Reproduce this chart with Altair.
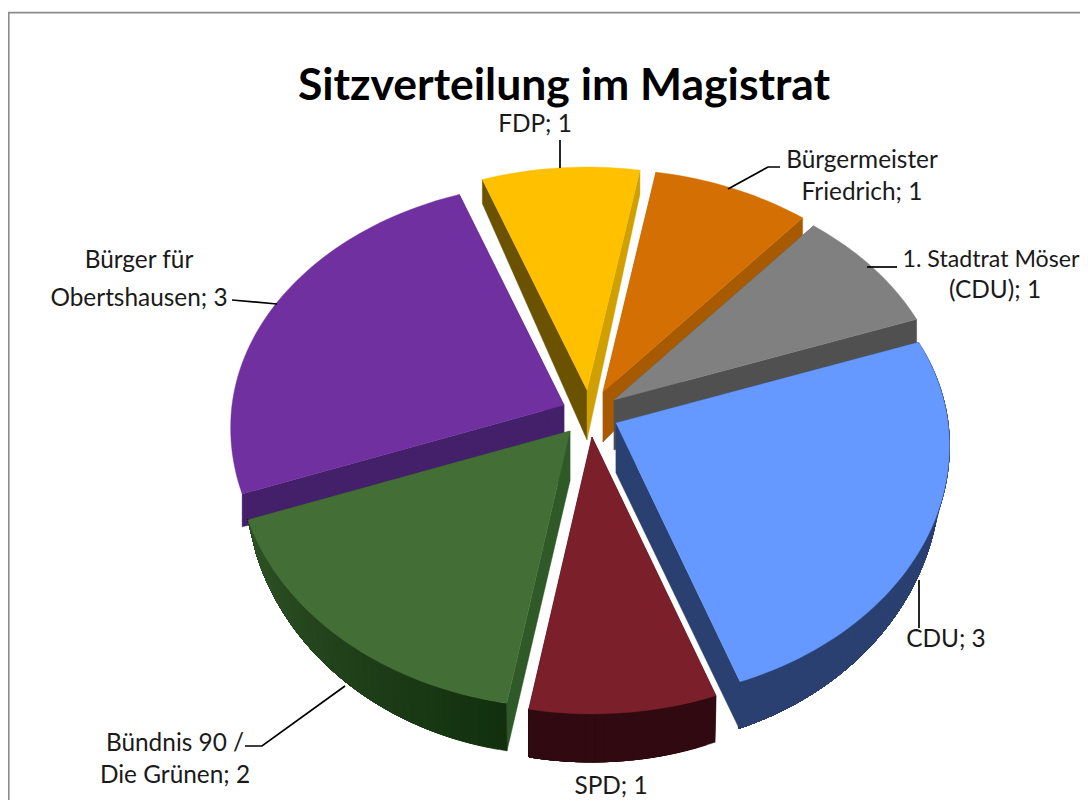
import math
import altair as alt

# ---- values ----
parties = ["CDU", "SPD", "Bündnis 90 /\nDie Grünen", "Bürger für\nObertshausen", "FDP",
           "Bürgermeister\nFriedrich", "1. Stadtrat Möser\n(CDU)"]
seats = [3, 1, 2, 3, 1, 1, 1]
title_text = "Sitzverteilung im Magistrat"

# ---- styling and 3D layout ----
top_colors = ["#6699ff", "#7b1f2b", "#436f36", "#7030a0", "#ffc000", "#d47003", "#808080"]
rim_from = ["#2a4070", "#300a10", "#12300e", "#44206a", "#6b5200", "#a85a00", "#505050"]
rim_to = ["#2a4070", "#300a10", "#2f5226", "#44206a", "#6b5200", "#a85a00", "#505050"]
start_wall = ["#2a4070", "#300a10", "#2f5a28", "#44206a", "#6b5200", "#a85a00", "#505050"]
end_wall = ["#2a4070", "#300a10", "#2f5a28", "#44206a", "#d0a000", "#a85a00", "#505050"]
rim_visible = [True, True, True, False, False, False, False]
apex = [(616, 423), (592, 437), (570, 431), (564, 405), (587, 390), (603, 392), (614, 400)]
draw_order = [3, 4, 5, 6, 2, 0, 1]
START_ANGLE, RX, RY_FRONT, RY_BACK, PERSP, T_CENTRE, RIM_SHRINK = 70.0, 332.0, 252.0, 243.0, 0.09, 50.0, 9.0
label_pos = [(946, 640), (611, 787), (175, 744), (139, 261), (535, 125), (862, 161), (995, 260)]
LINE_GAP = [0, 0, 32, 38, 0, 32, 31]
FONT_SIZE, TITLE_SIZE = 24.4, 44.5
# the window cuts the first Stadtrat line in the reference; it is fitted inside the page instead
fit_line = {"1. Stadtrat Möser": (991, 23.2)}
leaders = [[(919, 580), (919, 628)],
           [(345, 686), (262, 746), (245, 746)],
           [(232, 300), (277, 304)],
           [(560, 140), (560, 168)],
           [(728, 189), (768, 167), (780, 167)],
           [(867, 267), (897, 267)]]
W, H = 1072, 792


def mix(a, b, f):
    ca = [int(a[i:i + 2], 16) for i in (1, 3, 5)]
    cb = [int(b[i:i + 2], 16) for i in (1, 3, 5)]
    return "#%02x%02x%02x" % tuple(round(x + (y - x) * f) for x, y in zip(ca, cb))


def rim_point(c, deg):
    t = math.radians(deg)
    depth = -math.cos(t)
    s = 1 / (1 - PERSP * depth)
    ry = RY_FRONT if depth > 0 else RY_BACK
    return (c[0] + RX * math.sin(t) * s, c[1] + ry * depth * s)


def rim_thick(deg):
    depth = -math.cos(math.radians(deg))
    return 25 + 23 * depth if depth > 0 else 24


def rim_bottom(c, deg):
    p = rim_point(c, deg)
    sn = math.sin(math.radians(deg))
    return (p[0] - RIM_SHRINK * sn * abs(sn), p[1] + rim_thick(deg))


def feature(points, fill):
    ring = [list(p) for p in points] + [list(points[0])]
    return {"type": "Feature", "geometry": {"type": "Polygon", "coordinates": [ring]},
            "properties": {"fill": fill}}


total = sum(seats)
starts = []
a = START_ANGLE
for v in seats:
    starts.append(a)
    a += 360 * v / total

features = []
for i in draw_order:
    a0 = starts[i]
    a1 = a0 + 360 * seats[i] / total
    c = apex[i]
    down = (c[0], c[1] + T_CENTRE)
    for ang, col in ((a0, start_wall[i]), (a1, end_wall[i])):
        p = rim_point(c, ang)
        b = rim_bottom(c, ang) if rim_visible[i] else (p[0], p[1] + rim_thick(ang))
        features.append(feature([c, p, b, down], col))
    n = max(2, int((a1 - a0) / 1.5))
    angs = [a0 + (a1 - a0) * k / n for k in range(n + 1)]
    if rim_visible[i]:
        # painted from the far end back so that each strip overlaps the previous one
        for k in range(n):
            span = angs[k:]
            col = mix(rim_from[i], rim_to[i], k / (n - 1))
            ring = [rim_point(c, x) for x in span] + [rim_bottom(c, x) for x in reversed(span)]
            features.append(feature(ring, col))
    features.append(feature([c] + [rim_point(c, x) for x in angs], top_colors[i]))

pie = alt.Chart(alt.Data(values=features)).mark_geoshape(strokeWidth=0.4).encode(
    fill=alt.Fill("properties.fill:N", scale=None),
    stroke=alt.Stroke("properties.fill:N", scale=None),
).project(type="identity", scale=1, translate=[-8, -8])

X = alt.Scale(domain=[8, 8 + W], range=[0, W])
Y = alt.Scale(domain=[8, 8 + H], range=[0, H])

label_rows = []
for i, name in enumerate(parties):
    lines = name.split("\n")
    lines[-1] += f"; {seats[i]}"
    for j, line in enumerate(lines):
        x, size = fit_line.get(line, (label_pos[i][0], FONT_SIZE))
        label_rows.append({"t": line, "x": x, "y": label_pos[i][1] + j * LINE_GAP[i], "s": size})

labels = alt.Chart(alt.Data(values=label_rows)).mark_text(
    font="Lato", color="#1a1a1a", align="center", baseline="middle"
).encode(x=alt.X("x:Q", scale=X, axis=None), y=alt.Y("y:Q", scale=Y, axis=None), text="t:N",
         size=alt.Size("s:Q", scale=None))

title = alt.Chart(alt.Data(values=[{"t": title_text, "x": 564, "y": 87}])).mark_text(
    font="Lato", fontSize=TITLE_SIZE, fontWeight="bold", color="#000000", align="center", baseline="middle"
).encode(x=alt.X("x:Q", scale=X, axis=None), y=alt.Y("y:Q", scale=Y, axis=None), text="t:N")

leader_rows = [{"id": i, "o": j, "x": p[0], "y": p[1]} for i, l in enumerate(leaders) for j, p in enumerate(l)]
leader = alt.Chart(alt.Data(values=leader_rows)).mark_line(color="#000000", strokeWidth=1.7).encode(
    x=alt.X("x:Q", scale=X, axis=None), y=alt.Y("y:Q", scale=Y, axis=None),
    detail="id:N", order="o:Q")

frame_rows = [{"o": 0, "x": 8.7, "y": 8 + H}, {"o": 1, "x": 8.7, "y": 12.7}, {"o": 2, "x": 8 + W, "y": 12.7}]
frame = alt.Chart(alt.Data(values=frame_rows)).mark_line(color="#8c8c8c", strokeWidth=1.8).encode(
    x=alt.X("x:Q", scale=X, axis=None), y=alt.Y("y:Q", scale=Y, axis=None), order="o:Q")

chart = alt.layer(frame, pie, leader, labels, title).properties(
    width=W, height=H, padding=0, autosize=alt.AutoSizeParams(type="none"), background="#ffffff"
).configure_view(stroke=None, strokeWidth=0)

chart.save("out.html", embed_options={"renderer": "svg", "actions": False})
